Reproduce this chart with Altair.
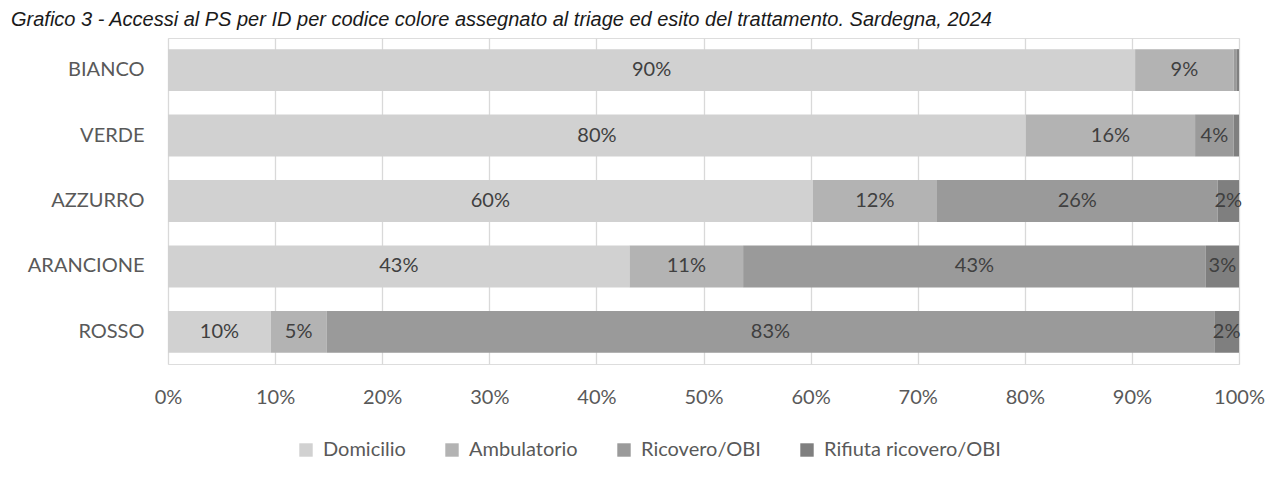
import altair as alt
import pandas as pd

title_text = "Grafico 3 - Accessi al PS per ID per codice colore assegnato al triage ed esito del trattamento. Sardegna, 2024"
categories = ["BIANCO", "VERDE", "AZZURRO", "ARANCIONE", "ROSSO"]
series = ["Domicilio", "Ambulatorio", "Ricovero/OBI", "Rifiuta ricovero/OBI"]
domicilio = [90.3, 80.1, 60.2, 43.1, 9.6]
ambulatorio = [9.2, 15.8, 11.6, 10.6, 5.2]
ricovero = [0.3, 3.6, 26.2, 43.2, 82.9]
rifiuta = [0.2, 0.5, 2.0, 3.1, 2.3]
colors = ["#d1d1d1", "#b3b3b3", "#9a9a9a", "#7f7f7f"]
tick_values = [0, 10, 20, 30, 40, 50, 60, 70, 80, 90, 100]

rows = []
for i, (name, vals) in enumerate(zip(series, [domicilio, ambulatorio, ricovero, rifiuta])):
    for c, v in zip(categories, vals):
        rows.append({"cat": c, "serie": name, "ord": i, "val": v})
df = pd.DataFrame(rows)

FONT = "Lato"
TXT = "#595959"

base = alt.Chart(df).transform_stack(
    stack="val",
    groupby=["cat"],
    sort=[alt.SortField("ord", order="ascending")],
    as_=["x0", "x1"],
).transform_calculate(
    mid="(datum.x0 + datum.x1) / 2",
    lab="format(datum.val, '.0f') + '%'",
)

y_enc = alt.Y(
    "cat:N",
    sort=categories,
    scale=alt.Scale(paddingInner=0.36, paddingOuter=0.17),
    axis=alt.Axis(
        title=None, domain=False, ticks=False, grid=False,
        labelFont=FONT, labelFontSize=20, labelColor=TXT, labelPadding=24,
    ),
)

bars = base.mark_bar().encode(
    x=alt.X(
        "x0:Q",
        scale=alt.Scale(domain=[0, 100], nice=False, zero=True),
        axis=alt.Axis(
            title=None, values=tick_values, labelExpr="datum.value + '%'",
            domain=False, ticks=False, grid=True, gridColor="#d9d9d9", gridWidth=1.3,
            labelFont=FONT, labelFontSize=20, labelColor=TXT, labelPadding=23,
            labelFlush=False, labelOverlap=False,
        ),
    ),
    x2="x1:Q",
    y=y_enc,
    color=alt.Color(
        "serie:N",
        scale=alt.Scale(domain=series, range=colors),
        legend=alt.Legend(
            title=None, orient="none", legendX=128, legendY=402,
            direction="horizontal", symbolType="square", symbolSize=180,
            symbolStrokeWidth=0, symbolOpacity=1,
            labelFont=FONT, labelFontSize=20, labelColor=TXT, labelLimit=400,
            labelOffset=7, columnPadding=36,
        ),
    ),
    order=alt.Order("ord:Q"),
)

labels = base.transform_filter("datum.val >= 1").mark_text(
    font=FONT, fontSize=20, color="#404040", baseline="middle", align="center"
).encode(
    x="mid:Q",
    y=alt.Y("cat:N", sort=categories),
    text="lab:N",
)

chart = alt.layer(bars, labels).properties(
    width=1071,
    height=326,
    padding={"left": 160, "top": 30, "right": 37, "bottom": 107},
    autosize=alt.AutoSizeParams(type="none"),
    title=alt.TitleParams(
        text=title_text, anchor="start", frame="group", dx=-157, offset=8,
        font="Liberation Sans", fontSize=20, fontStyle="italic",
        fontWeight="normal", color="#1a1a1a",
    ),
).configure_view(stroke=None).configure(background="white")

chart.save("out.html", embed_options={"renderer": "svg", "actions": False})
